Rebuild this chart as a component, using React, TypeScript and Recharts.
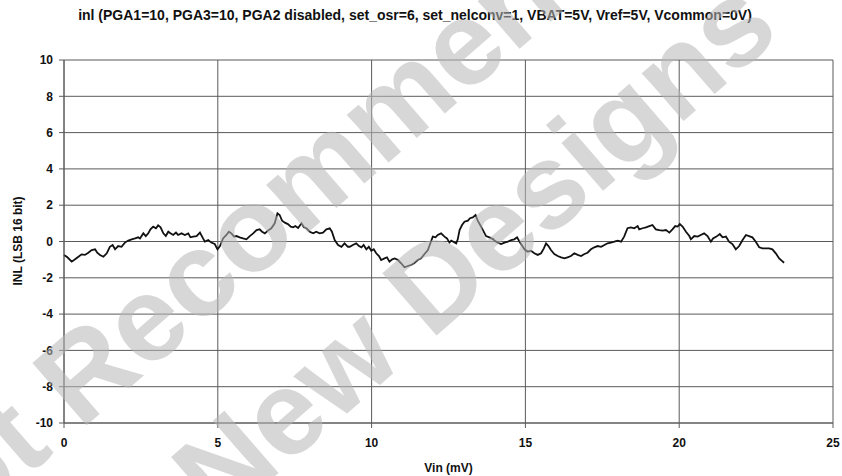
import React from 'react';
import { LineChart, Line, XAxis, YAxis, CartesianGrid, Label } from 'recharts';

const chartTitle = 'inl (PGA1=10, PGA3=10, PGA2 disabled, set_osr=6, set_nelconv=1, VBAT=5V, Vref=5V, Vcommon=0V)';
const xAxisTitle = 'Vin (mV)';
const yAxisTitle = 'INL (LSB 16 bit)';
const watermarkLines = ['Not Recommended', 'for New Designs'];

const xTicks = [0, 5, 10, 15, 20, 25];
const yTicks = [-10, -8, -6, -4, -2, 0, 2, 4, 6, 8, 10];

const vinMv = [
  0.0, 0.11, 0.25, 0.36, 0.47, 0.57, 0.68, 0.79, 0.90, 1.01, 1.08, 1.17, 1.28, 1.39, 1.49, 1.58, 1.66, 1.76, 1.87, 1.98,
  2.09, 2.20, 2.31, 2.41, 2.47, 2.58, 2.66, 2.74, 2.81, 2.90, 2.99, 3.06, 3.14, 3.23, 3.31, 3.39, 3.46, 3.55, 3.64, 3.71,
  3.82, 3.93, 4.04, 4.11, 4.20, 4.31, 4.42, 4.52,
  4.58, 4.69, 4.79, 4.90, 4.99, 5.07, 5.17, 5.28, 5.36, 5.44, 5.53, 5.61, 5.71, 5.82, 5.93, 6.04, 6.15, 6.26, 6.36, 6.44,
  6.53, 6.63, 6.74, 6.85, 6.94, 7.01, 7.09, 7.18, 7.28, 7.37, 7.45, 7.52, 7.61, 7.72, 7.80, 7.88, 7.99, 8.10, 8.20, 8.31,
  8.42, 8.53, 8.64, 8.71, 8.80, 8.91, 9.02, 9.12, 9.23,
  9.29, 9.39, 9.50, 9.59, 9.67, 9.74, 9.83, 9.91, 9.99, 10.07, 10.15, 10.24, 10.31, 10.42, 10.50, 10.58, 10.67, 10.75,
  10.86, 10.96, 11.07, 11.18, 11.29, 11.40, 11.50, 11.61, 11.72, 11.83, 11.91, 11.99, 12.08, 12.15, 12.26, 12.37, 12.45,
  12.53, 12.59, 12.66, 12.75, 12.80, 12.86, 12.94, 13.02, 13.13, 13.20, 13.29, 13.38, 13.45, 13.53, 13.62, 13.72, 13.83,
  13.96,
  13.99, 14.10, 14.21, 14.32, 14.43, 14.54, 14.64, 14.73, 14.81, 14.88, 14.97, 15.08, 15.18, 15.29, 15.40, 15.51, 15.60,
  15.67, 15.75, 15.83, 15.94, 16.05, 16.16, 16.27, 16.37, 16.48, 16.59, 16.70, 16.81, 16.92, 17.02, 17.13, 17.24, 17.35,
  17.46, 17.57, 17.67, 17.78, 17.89, 18.00, 18.11, 18.21, 18.32, 18.43, 18.54, 18.65,
  18.70, 18.81, 18.92, 19.03, 19.13, 19.24, 19.35, 19.46, 19.57, 19.68, 19.78, 19.87, 19.95, 20.02, 20.11, 20.22, 20.33,
  20.38, 20.49, 20.60, 20.70, 20.81, 20.92, 21.03, 21.10, 21.21, 21.32, 21.41, 21.52, 21.62, 21.73, 21.84, 21.95, 22.06,
  22.17, 22.27, 22.38, 22.49, 22.60, 22.71, 22.81, 22.92, 23.03, 23.14, 23.25, 23.33, 23.41,
];

const inlLsb = [
  -0.74, -0.87, -1.11, -0.98, -0.84, -0.71, -0.74, -0.62, -0.47, -0.43, -0.62, -0.74, -0.84, -0.65, -0.29, -0.19, -0.43, -0.25, -0.29, -0.06,
  0.05, 0.12, 0.17, 0.23, 0.16, 0.45, 0.30, 0.45, 0.67, 0.82, 0.73, 0.89, 0.78, 0.45, 0.30, 0.54, 0.45, 0.36, 0.49, 0.36,
  0.45, 0.36, 0.45, 0.23, 0.27, 0.30, 0.49, 0.17,
  -0.01, 0.08, -0.06, -0.14, -0.43, -0.25, 0.17, 0.36, 0.54, 0.45, 0.27, 0.30, 0.23, 0.17, 0.12, 0.30, 0.45, 0.63, 0.67, 0.54,
  0.45, 0.60, 0.73, 1.00, 1.55, 1.46, 1.15, 1.04, 0.96, 0.82, 0.78, 0.85, 0.74, 1.00, 0.78, 0.73, 0.54, 0.45, 0.54, 0.45,
  0.49, 0.67, 0.73, 0.54, 0.08, -0.19, -0.29, -0.10, -0.29,
  -0.29, -0.19, -0.10, -0.25, -0.32, -0.19, -0.43, -0.29, -0.51, -0.43, -0.65, -0.80, -1.02, -0.93, -0.87, -1.11, -0.98, -0.93,
  -1.02, -1.20, -1.42, -1.35, -1.29, -1.17, -1.02, -0.93, -0.69, -0.47, -0.10, 0.27, 0.23, 0.36, 0.45, 0.27, 0.17,
  -0.06, 0.05, -0.01, -0.10, 0.12, 0.63, 0.91, 1.09, 1.15, 1.28, 1.33, 1.46, 1.15, 0.91, 0.63, 0.30, 0.23,
  0.12,
  0.05, -0.06, -0.14, -0.06, -0.01, 0.08, 0.12, 0.23, -0.01, -0.19, -0.43, -0.56, -0.51, -0.65, -0.74, -0.65, -0.38,
  -0.10, -0.25, -0.47, -0.69, -0.80, -0.87, -0.93, -0.87, -0.80, -0.65, -0.74, -0.80, -0.69, -0.62, -0.43, -0.32, -0.25,
  -0.29, -0.19, -0.10, -0.06, -0.01, 0.05, -0.01, 0.27, 0.73, 0.78, 0.73, 0.85,
  0.67, 0.73, 0.78, 0.85, 0.91, 0.67, 0.63, 0.60, 0.63, 0.49, 0.67, 0.85, 0.82, 0.96, 0.82, 0.54, 0.30,
  0.12, 0.30, 0.27, 0.36, 0.45, 0.30, -0.01, 0.17, 0.27, 0.41, 0.23, 0.27, -0.01, -0.14, -0.43, -0.25, 0.08,
  0.36, 0.30, 0.23, -0.01, -0.32, -0.38, -0.38, -0.38, -0.43, -0.65, -0.93, -1.05, -1.17,
];

const data = vinMv.map((v, i) => ({ vin: v, inl: inlLsb[i] }));

const FONT = '"Liberation Sans", Arial, sans-serif';
const GRID = '#5a5a5a';
const tickStyle = { fontFamily: FONT, fontSize: 12, fontWeight: 'bold', fill: '#111' };
const watermarkStyle = { fontFamily: FONT, fontSize: 120, fontWeight: 'bold' };

export default function App() {
  return (
    <div style={{ position: 'absolute', left: 0, top: 0, width: 842, height: 476, background: '#fff', overflow: 'hidden' }}>
      <div
        style={{
          position: 'absolute',
          left: -6,
          top: 7,
          width: 842,
          textAlign: 'center',
          fontFamily: FONT,
          fontSize: 14,
          fontWeight: 'bold',
          color: '#111',
          whiteSpace: 'nowrap',
        }}
      >
        {chartTitle}
      </div>
      <LineChart width={842} height={476} data={data} margin={{ top: 60, right: 9, bottom: 23, left: 0 }}>
        <CartesianGrid stroke={GRID} strokeWidth={1} fill="none" />
        <XAxis
          type="number"
          dataKey="vin"
          domain={[0, 25]}
          ticks={xTicks}
          interval={0}
          height={30}
          tickSize={5}
          tickMargin={10}
          axisLine={{ stroke: GRID }}
          tickLine={{ stroke: GRID }}
          tick={tickStyle}
        >
          <Label
            value={xAxisTitle}
            position="bottom"
            offset={10}
            style={{ fontFamily: FONT, fontSize: 12, fontWeight: 'bold', fill: '#111' }}
          />
        </XAxis>
        <YAxis
          type="number"
          domain={[-10, 10]}
          ticks={yTicks}
          interval={0}
          width={64}
          tickSize={5}
          tickMargin={6}
          axisLine={{ stroke: GRID }}
          tickLine={{ stroke: GRID }}
          tick={tickStyle}
        >
          <Label
            content={() => (
              <text
                x={18}
                y={241}
                transform="rotate(-90 18 241)"
                textAnchor="middle"
                dominantBaseline="central"
                style={{ fontFamily: FONT, fontSize: 12, fontWeight: 'bold', fill: '#111' }}
              >
                {yAxisTitle}
              </text>
            )}
          />
        </YAxis>
        <Line
          type="linear"
          dataKey="inl"
          stroke="#111"
          strokeWidth={1.8}
          dot={false}
          isAnimationActive={false}
        />
      </LineChart>
      <svg
        width={842}
        height={476}
        style={{ position: 'absolute', left: 0, top: 0, pointerEvents: 'none' }}
      >
        <g transform="translate(-74.5 585) rotate(-41)" opacity={0.55}>
          <text x={-15} y={-15} fill="#b8b8b8" style={watermarkStyle}>
            {watermarkLines[0]}
          </text>
          <text x={68} y={147} fill="#b8b8b8" style={watermarkStyle}>
            {watermarkLines[1]}
          </text>
        </g>
      </svg>
    </div>
  );
}
